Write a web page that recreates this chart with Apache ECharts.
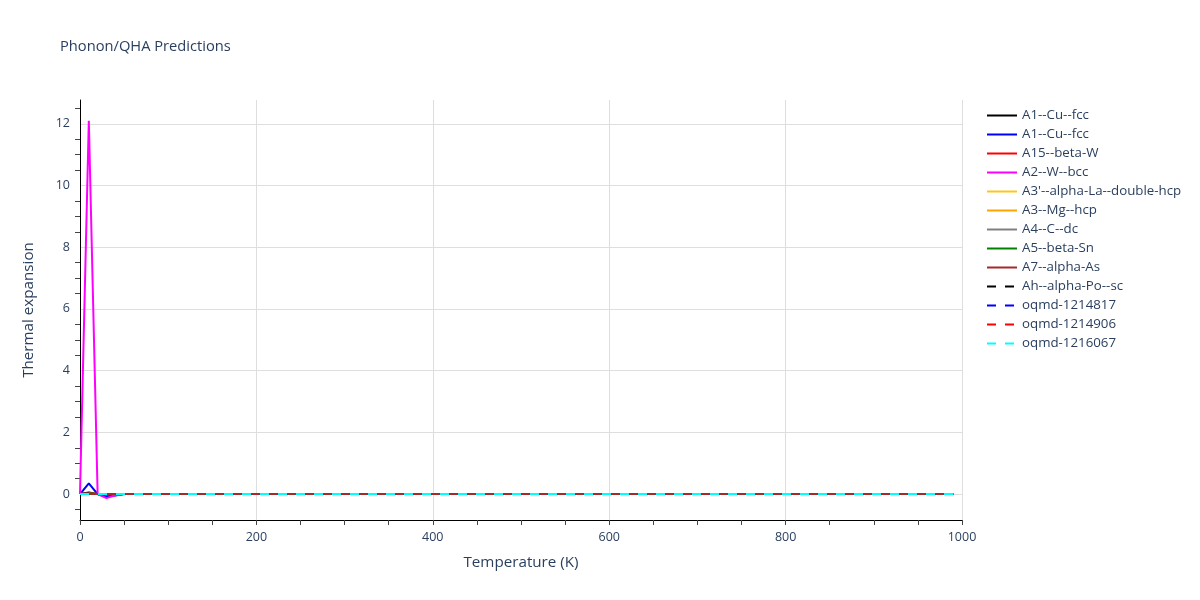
<!DOCTYPE html>
<html>
<head>
<meta charset="utf-8">
<script src="https://cdn.jsdelivr.net/npm/echarts@6/dist/echarts.min.js"></script>
<style>html,body{margin:0;padding:0;background:#fff}#c{width:1200px;height:600px}</style>
</head>
<body>
<div id="c"></div>
<script>
const temperatures = [
0,10,20,30,40,50,60,70,80,90,
100,110,120,130,140,150,160,170,180,190,
200,210,220,230,240,250,260,270,280,290,
300,310,320,330,340,350,360,370,380,390,
400,410,420,430,440,450,460,470,480,490,
500,510,520,530,540,550,560,570,580,590,
600,610,620,630,640,650,660,670,680,690,
700,710,720,730,740,750,760,770,780,790,
800,810,820,830,840,850,860,870,880,890,
900,910,920,930,940,950,960,970,980,990];

const A1_Cu_fcc_a = [0,0.05,0,-0.08,-0.02,0,0,0,0,0,
0,0,0,0,0,0,0,0,0,0, 0,0,0,0,0,0,0,0,0,0, 0,0,0,0,0,0,0,0,0,0,
0,0,0,0,0,0,0,0,0,0, 0,0,0,0,0,0,0,0,0,0, 0,0,0,0,0,0,0,0,0,0,
0,0,0,0,0,0,0,0,0,0, 0,0,0,0,0,0,0,0,0,0, 0,0,0,0,0,0,0,0,0,0];
const A1_Cu_fcc_b = [0,0.35,0,-0.08,-0.05,0,0,0,0,0,
0,0,0,0,0,0,0,0,0,0, 0,0,0,0,0,0,0,0,0,0, 0,0,0,0,0,0,0,0,0,0,
0,0,0,0,0,0,0,0,0,0, 0,0,0,0,0,0,0,0,0,0, 0,0,0,0,0,0,0,0,0,0,
0,0,0,0,0,0,0,0,0,0, 0,0,0,0,0,0,0,0,0,0, 0,0,0,0,0,0,0,0,0,0];
const A15_beta_W = [0,0.02,0,-0.02,0,0,0,0,0,0,
0,0,0,0,0,0,0,0,0,0, 0,0,0,0,0,0,0,0,0,0, 0,0,0,0,0,0,0,0,0,0,
0,0,0,0,0,0,0,0,0,0, 0,0,0,0,0,0,0,0,0,0, 0,0,0,0,0,0,0,0,0,0,
0,0,0,0,0,0,0,0,0,0, 0,0,0,0,0,0,0,0,0,0, 0,0,0,0,0,0,0,0,0,0];
const A2_W_bcc = [0,12.1,0,-0.13,-0.04,0,0,0,0,0,
0,0,0,0,0,0,0,0,0,0, 0,0,0,0,0,0,0,0,0,0, 0,0,0,0,0,0,0,0,0,0,
0,0,0,0,0,0,0,0,0,0, 0,0,0,0,0,0,0,0,0,0, 0,0,0,0,0,0,0,0,0,0,
0,0,0,0,0,0,0,0,0,0, 0,0,0,0,0,0,0,0,0,0, 0,0,0,0,0,0,0,0,0,0];
const A3p_alpha_La = [0,0.01,0,0,0,0,0,0,0,0,
0,0,0,0,0,0,0,0,0,0, 0,0,0,0,0,0,0,0,0,0, 0,0,0,0,0,0,0,0,0,0,
0,0,0,0,0,0,0,0,0,0, 0,0,0,0,0,0,0,0,0,0, 0,0,0,0,0,0,0,0,0,0,
0,0,0,0,0,0,0,0,0,0, 0,0,0,0,0,0,0,0,0,0, 0,0,0,0,0,0,0,0,0,0];
const A3_Mg_hcp = [0,0.01,0,0,0,0,0,0,0,0,
0,0,0,0,0,0,0,0,0,0, 0,0,0,0,0,0,0,0,0,0, 0,0,0,0,0,0,0,0,0,0,
0,0,0,0,0,0,0,0,0,0, 0,0,0,0,0,0,0,0,0,0, 0,0,0,0,0,0,0,0,0,0,
0,0,0,0,0,0,0,0,0,0, 0,0,0,0,0,0,0,0,0,0, 0,0,0,0,0,0,0,0,0,0];
const A4_C_dc = [0,0,0,0,0,0,0,0,0,0,
0,0,0,0,0,0,0,0,0,0, 0,0,0,0,0,0,0,0,0,0, 0,0,0,0,0,0,0,0,0,0,
0,0,0,0,0,0,0,0,0,0, 0,0,0,0,0,0,0,0,0,0, 0,0,0,0,0,0,0,0,0,0,
0,0,0,0,0,0,0,0,0,0, 0,0,0,0,0,0,0,0,0,0, 0,0,0,0,0,0,0,0,0,0];
const A5_beta_Sn = [0,0.02,0,0,0,0,0,0,0,0,
0,0,0,0,0,0,0,0,0,0, 0,0,0,0,0,0,0,0,0,0, 0,0,0,0,0,0,0,0,0,0,
0,0,0,0,0,0,0,0,0,0, 0,0,0,0,0,0,0,0,0,0, 0,0,0,0,0,0,0,0,0,0,
0,0,0,0,0,0,0,0,0,0, 0,0,0,0,0,0,0,0,0,0, 0,0,0,0,0,0,0,0,0,0];
const A7_alpha_As = [0,0.01,0,0,0,0,0,0,0,0,
0,0,0,0,0,0,0,0,0,0, 0,0,0,0,0,0,0,0,0,0, 0,0,0,0,0,0,0,0,0,0,
0,0,0,0,0,0,0,0,0,0, 0,0,0,0,0,0,0,0,0,0, 0,0,0,0,0,0,0,0,0,0,
0,0,0,0,0,0,0,0,0,0, 0,0,0,0,0,0,0,0,0,0, 0,0,0,0,0,0,0,0,0,0];
const Ah_alpha_Po = [0,0.01,0,0,0,0,0,0,0,0,
0,0,0,0,0,0,0,0,0,0, 0,0,0,0,0,0,0,0,0,0, 0,0,0,0,0,0,0,0,0,0,
0,0,0,0,0,0,0,0,0,0, 0,0,0,0,0,0,0,0,0,0, 0,0,0,0,0,0,0,0,0,0,
0,0,0,0,0,0,0,0,0,0, 0,0,0,0,0,0,0,0,0,0, 0,0,0,0,0,0,0,0,0,0];
const oqmd_1214817 = [0,0.01,0,0,0,0,0,0,0,0,
0,0,0,0,0,0,0,0,0,0, 0,0,0,0,0,0,0,0,0,0, 0,0,0,0,0,0,0,0,0,0,
0,0,0,0,0,0,0,0,0,0, 0,0,0,0,0,0,0,0,0,0, 0,0,0,0,0,0,0,0,0,0,
0,0,0,0,0,0,0,0,0,0, 0,0,0,0,0,0,0,0,0,0, 0,0,0,0,0,0,0,0,0,0];
const oqmd_1214906 = [0,0.01,0,0,0,0,0,0,0,0,
0,0,0,0,0,0,0,0,0,0, 0,0,0,0,0,0,0,0,0,0, 0,0,0,0,0,0,0,0,0,0,
0,0,0,0,0,0,0,0,0,0, 0,0,0,0,0,0,0,0,0,0, 0,0,0,0,0,0,0,0,0,0,
0,0,0,0,0,0,0,0,0,0, 0,0,0,0,0,0,0,0,0,0, 0,0,0,0,0,0,0,0,0,0];
const oqmd_1216067 = [0,0,0,0,0,0,0,0,0,0,
0,0,0,0,0,0,0,0,0,0, 0,0,0,0,0,0,0,0,0,0, 0,0,0,0,0,0,0,0,0,0,
0,0,0,0,0,0,0,0,0,0, 0,0,0,0,0,0,0,0,0,0, 0,0,0,0,0,0,0,0,0,0,
0,0,0,0,0,0,0,0,0,0, 0,0,0,0,0,0,0,0,0,0, 0,0,0,0,0,0,0,0,0,0];

const seriesNames = ["A1--Cu--fcc","A1--Cu--fcc","A15--beta-W","A2--W--bcc","A3'--alpha-La--double-hcp","A3--Mg--hcp","A4--C--dc","A5--beta-Sn","A7--alpha-As","Ah--alpha-Po--sc","oqmd-1214817","oqmd-1214906","oqmd-1216067"];
const seriesValues = [A1_Cu_fcc_a,A1_Cu_fcc_b,A15_beta_W,A2_W_bcc,A3p_alpha_La,A3_Mg_hcp,A4_C_dc,A5_beta_Sn,A7_alpha_As,Ah_alpha_Po,oqmd_1214817,oqmd_1214906,oqmd_1216067];
const seriesColors = ["#000000","#0000ff","#ff0000","#ff00ff","#ffc61a","#ffa500","#808080","#008000","#a52a2a","#000000","#0000ff","#ff0000","#00ffff"];
const seriesDashed = [false,false,false,false,false,false,false,false,false,true,true,true,true];
const yLabelValues = [0,2,4,6,8,10,12];
const yMinorTickValues = [-0.5,0.5,1,1.5,2.5,3,3.5,4.5,5,5.5,6.5,7,7.5,8.5,9,9.5,10.5,11,11.5,12.5];

const font = "'Open Sans', 'Noto Sans', sans-serif";
const txt = '#2a3f5f';
const chart = echarts.init(document.getElementById('c'), null, {renderer: 'canvas'});
const keyOf = i => 'k' + i;
const series = seriesNames.map((n, i) => ({
  name: keyOf(i),
  type: 'line',
  data: temperatures.map((t, k) => [t, seriesValues[i][k]]),
  symbol: 'none',
  showSymbol: false,
  smooth: false,
  animation: false,
  color: seriesColors[i],
  lineStyle: {color: seriesColors[i], width: 2, type: seriesDashed[i] ? [9, 9] : 'solid'},
  emphasis: {disabled: true}
}));
chart.setOption({
  animation: false,
  backgroundColor: '#fff',
  textStyle: {fontFamily: font},
  title: {text: 'Phonon/QHA Predictions', left: 55, top: 34,
    textStyle: {fontFamily: font, fontSize: 14.7, fontWeight: 'normal', color: txt}},
  legend: {
    orient: 'vertical', left: 981, top: 104, itemWidth: 30, itemHeight: 14, itemGap: 6,
    itemStyle: {opacity: 0},
    textStyle: {fontFamily: font, fontSize: 13.3, color: txt},
    formatter: name => seriesNames[+name.slice(1)],
    data: seriesNames.map((n, i) => keyOf(i))
  },
  grid: {left: 80, right: 238, top: 100, bottom: 80, containLabel: false},
  xAxis: {
    type: 'value', min: 0, max: 1000, interval: 200,
    name: 'Temperature (K)', nameLocation: 'middle', nameGap: 35,
    nameTextStyle: {fontFamily: font, fontSize: 15.2, color: txt},
    axisLine: {show: true, onZero: false, lineStyle: {color: '#000', width: 1}},
    axisTick: {show: true, inside: false, length: 5, lineStyle: {color: '#444'}},
    minorTick: {show: true, splitNumber: 4, length: 5, lineStyle: {color: '#444'}},
    axisLabel: {fontFamily: font, fontSize: 12.5, color: txt, margin: 11, formatter: v => String(v)},
    splitLine: {show: true, showMinLine: false, lineStyle: {color: '#dedede', width: 1}}
  },
  yAxis: [{
    type: 'value', min: -0.84, max: 12.77, splitNumber: 7,
    name: 'Thermal expansion', nameLocation: 'middle', nameGap: 44,
    nameTextStyle: {fontFamily: font, fontSize: 15.2, color: txt},
    axisLine: {show: true, onZero: false, lineStyle: {color: '#000', width: 1}},
    axisTick: {show: false},
    axisLabel: {fontFamily: font, fontSize: 12.5, color: txt, margin: 10, customValues: yLabelValues},
    splitLine: {show: true, showMinLine: false, showMaxLine: false, lineStyle: {color: '#dedede', width: 1}}
  }, {
    type: 'value', min: -0.84, max: 12.77, position: 'left',
    axisLine: {show: false},
    axisTick: {show: true, inside: false, length: 5, lineStyle: {color: '#444'}, customValues: yMinorTickValues},
    axisLabel: {show: false},
    splitLine: {show: false}
  }],
  series: series
});
</script>
</body>
</html>
